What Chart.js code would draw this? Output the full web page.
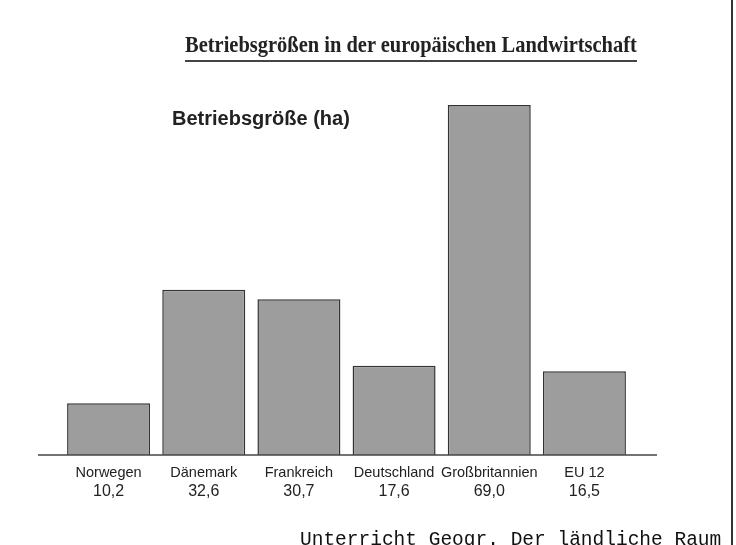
<!DOCTYPE html>
<html>
<head>
<meta charset="utf-8">
<script src="https://cdn.jsdelivr.net/npm/chart.js"></script>
<style>
  html, body { margin: 0; padding: 0; background: #fff; }
  #wrap { position: relative; width: 736px; height: 545px; overflow: hidden; }
  #chart { position: absolute; left: 0; top: 0; }
  .txt { position: absolute; white-space: nowrap; color: #222; }
  #title { left: 185px; top: 33px; font: bold 23px "Liberation Serif", "Times New Roman", serif; line-height: 23px;
           transform: scaleX(0.89); transform-origin: 0 0; }
  #rule { position: absolute; left: 185px; top: 60px; width: 452px; height: 2px; background: #444; }
  #sub { left: 172px; top: 108px; font: bold 20px "Liberation Sans", Arial, sans-serif; line-height: 20px; }
  #foot { left: 300px; top: 530px; font: 19.5px "Liberation Mono", "Courier New", monospace; line-height: 20px; color: #111; }
  #edge { position: absolute; left: 731px; top: 0; width: 2px; height: 545px; background: #333; }
</style>
</head>
<body>
<div id="wrap">
  <canvas id="chart" width="736" height="545"></canvas>
  <div class="txt" id="title">Betriebsgrößen in der europäischen Landwirtschaft</div>
  <div id="rule"></div>
  <div class="txt" id="sub">Betriebsgröße (ha)</div>
  <div class="txt" id="foot">Unterricht Geogr. Der ländliche Raum</div>
  <div id="edge"></div>
</div>
<script>
const countries = ['Norwegen', 'Dänemark', 'Frankreich', 'Deutschland', 'Großbritannien', 'EU 12'];
const sizes = [10.2, 32.6, 30.7, 17.6, 69.0, 16.5];
const sizeMax = 69;

const fmt = v => v.toFixed(1).replace('.', ',');

// baseline runs a bit wider than the bars
const baseLine = {
  id: 'baseLine',
  afterDatasetsDraw(chart) {
    const { ctx, chartArea, scales: { y } } = chart;
    const yy = y.getPixelForValue(0);
    ctx.save();
    ctx.strokeStyle = '#444';
    ctx.lineWidth = 1.5;
    ctx.beginPath();
    ctx.moveTo(chartArea.left - 23, yy);
    ctx.lineTo(chartArea.right + 25, yy);
    ctx.stroke();
    ctx.restore();
  }
};

// the values sit under the country names, a bit bigger
const valueRow = {
  id: 'valueRow',
  afterDraw(chart) {
    const { ctx, scales: { x, y } } = chart;
    const yy = y.getPixelForValue(0) + 40.5;
    ctx.save();
    ctx.fillStyle = '#222';
    ctx.font = '16px "Liberation Sans", Arial, sans-serif';
    ctx.textAlign = 'center';
    ctx.textBaseline = 'alphabetic';
    sizes.forEach((v, i) => {
      ctx.fillText(fmt(v), x.getPixelForValue(i), yy);
    });
    ctx.restore();
  }
};

const ctx = document.getElementById('chart').getContext('2d');
const myChart = new Chart(ctx, {
  type: 'bar',
  data: {
    labels: countries,
    datasets: [{
      label: 'Betriebsgröße (ha)',
      data: sizes,
      backgroundColor: '#9d9d9d',
      borderColor: '#333',
      borderWidth: 1.5,
      barPercentage: 0.872,
      categoryPercentage: 1
    }]
  },
  options: {
    responsive: false,
    animation: false,
    layout: { padding: { left: 61, right: 104, top: 105, bottom: 30 } },
    plugins: {
      legend: { display: false },
      tooltip: { enabled: false }
    },
    scales: {
      x: {
        grid: { display: false },
        border: { display: false },
        ticks: {
          color: '#222',
          padding: 1,
          maxRotation: 0,
          autoSkip: false,
          font: { family: '"Liberation Sans", Arial, sans-serif', size: 14.5 }
        },
        afterFit: s => { s.height = 60; }
      },
      y: {
        display: false,
        min: 0,
        max: sizeMax
      }
    }
  },
  plugins: [baseLine, valueRow]
});
</script>
</body>
</html>
